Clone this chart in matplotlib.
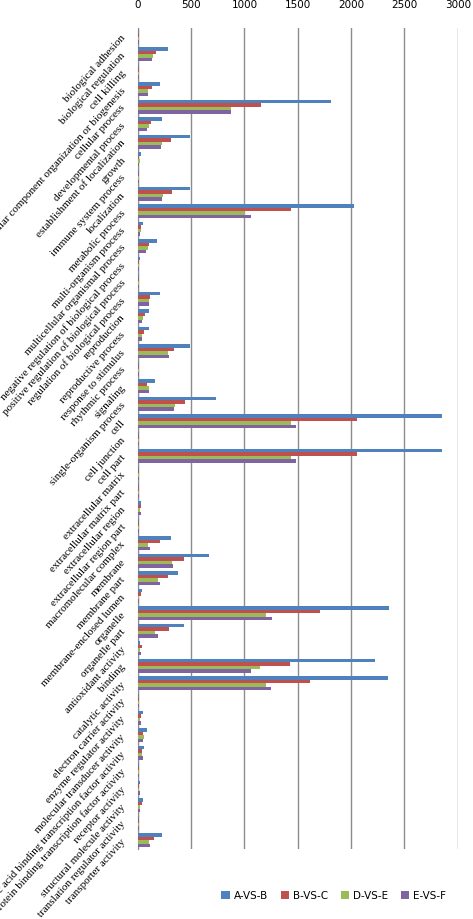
import numpy as np
import matplotlib
matplotlib.use('Agg')
import matplotlib.pyplot as plt

categories = ['biological adhesion', 'biological regulation', 'cell killing',
	'cellular component organization or biogenesis', 'cellular process',
	'developmental process', 'establishment of localization', 'growth',
	'immune system process', 'localization', 'metabolic process',
	'multi-organism process', 'multicellular organismal process',
	'negative regulation of biological process',
	'positive regulation of biological process',
	'regulation of biological process', 'reproduction', 'reproductive process',
	'response to stimulus', 'rhythmic process', 'signaling',
	'single-organism process', 'cell', 'cell junction', 'cell part',
	'extracellular matrix', 'extracellular matrix part', 'extracellular region',
	'extracellular region part', 'macromolecular complex', 'membrane',
	'membrane part', 'membrane-enclosed lumen', 'organelle', 'organelle part',
	'antioxidant activity', 'binding', 'catalytic activity',
	'electron carrier activity', 'enzyme regulator activity',
	'molecular transducer activity',
	'nucleic acid binding transcription factor activity',
	'protein binding transcription factor activity', 'receptor activity',
	'structural molecule activity', 'translation regulator activity',
	'transporter activity']

a_vs_b = [12, 284, 10, 206, 1816, 225, 487, 28, 16, 490, 2031, 47, 185, 20, 16, 209,
	106, 103, 490, 9, 162, 731, 2847, 9, 2847, 9, 9, 28, 9, 312, 666, 378, 38, 2359,
	431, 25, 2222, 2347, 9, 50, 84, 56, 9, 19, 50, 9, 225]
b_vs_c = [12, 172, 10, 131, 1159, 122, 309, 9, 9, 319, 1434, 30, 106, 9, 9, 120,
	68, 55, 337, 9, 92, 444, 2053, 9, 2053, 9, 9, 28, 9, 209, 431, 281, 28, 1709,
	291, 41, 1431, 1616, 9, 31, 50, 41, 9, 9, 41, 9, 150]
d_vs_e = [10, 140, 10, 94, 872, 106, 228, 19, 9, 234, 1003, 28, 94, 16, 9, 106,
	48, 45, 280, 9, 103, 350, 1438, 9, 1438, 9, 9, 19, 9, 94, 319, 191, 16, 1200,
	159, 25, 1147, 1200, 9, 19, 56, 41, 9, 9, 19, 9, 106]
e_vs_f = [10, 134, 10, 94, 872, 84, 222, 16, 9, 225, 1059, 20, 78, 9, 9, 106,
	44, 40, 291, 9, 103, 341, 1484, 9, 1484, 9, 9, 28, 9, 112, 334, 206, 16, 1256,
	191, 28, 1066, 1253, 9, 28, 50, 47, 9, 19, 19, 9, 116]

series = [('A-VS-B', a_vs_b, '#4F81BD'), ('B-VS-C', b_vs_c, '#C0504D'),
	('D-VS-E', d_vs_e, '#9BBB59'), ('E-VS-F', e_vs_f, '#8064A2')]

fig = plt.figure(figsize=(4.73, 9.19), dpi=100)
ax = fig.add_axes([0.291, 0.0762, 0.677, 0.8933])

indices = np.arange(len(categories))
height = 0.2
for k, (name, vals, col) in enumerate(series):
	ax.barh(indices - 0.3 + k * height, vals, height, color=col, label=name, zorder=3)

ax.set_ylim(len(categories) - 0.5, -0.5)
ax.set_xlim(0, 3000)
ax.set_xticks([0, 500, 1000, 1500, 2000, 2500, 3000])
ax.xaxis.tick_top()
ax.tick_params(axis='x', length=0, pad=13, labelsize=7.5)
ax.tick_params(axis='y', length=0, pad=10)
ax.grid(axis='x', color='#8c8c8c', linewidth=1, zorder=0)
ax.set_yticks(indices)
ax.set_yticklabels(categories, rotation=48, ha='right', va='center',
	rotation_mode='anchor', family='Liberation Serif', fontsize=8)
for s in ['top', 'right', 'bottom']:
	ax.spines[s].set_visible(False)
ax.spines['left'].set_color('#8c8c8c')

fig.legend(loc='center', bbox_to_anchor=(0.706, 0.025), ncol=4, frameon=False,
	fontsize=7.5, handlelength=0.8, handleheight=0.8, handletextpad=0.4,
	columnspacing=1.2)

fig.savefig('out.png', dpi=100)
